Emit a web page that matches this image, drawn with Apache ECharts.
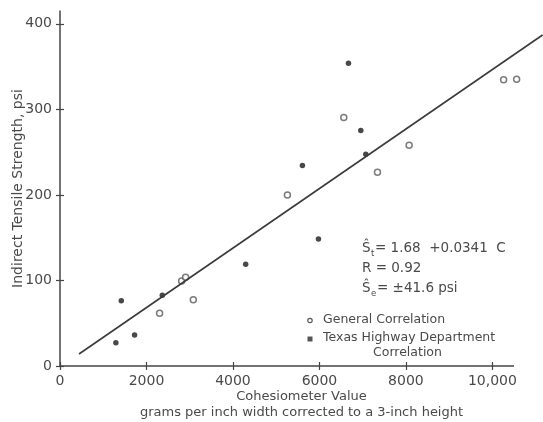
<!DOCTYPE html>
<html>
<head>
<meta charset="utf-8">
<script src="https://cdn.jsdelivr.net/npm/echarts@6/dist/echarts.min.js"></script>
<style>html,body{margin:0;padding:0;background:#fff}#c{width:543px;height:422px}</style>
</head>
<body>
<div id="c"></div>
<script>
// Data
const xTicks = [0, 2000, 4000, 6000, 8000, 10000];
const yTicks = [0, 100, 200, 300, 400];
const xAxisEnd = 10500;
const generalX = [2303, 2813, 2905, 3083, 5259, 6563, 7342, 8074, 10259, 10560];
const generalY = [61.6, 99.4, 103.7, 77.5, 200, 290.4, 226.5, 258, 334.5, 335.3];
const texasX = [1292, 1417, 1725, 2366, 4294, 5606, 5977, 6671, 6956, 7072];
const texasY = [27.3, 76.4, 36.3, 82.7, 119, 234.3, 148.5, 354, 275.2, 247.6];
const fitX = [440, 11160];
const fitY = [14, 387];

const TXT = '#4a4a4a';
const AX = '#444';
const FONT = 'DejaVu Sans';
const zip = (a, b) => a.map((v, i) => [v, b[i]]);

const chart = echarts.init(document.getElementById('c'));
const mainStyle = { fontFamily: FONT, fontSize: 13.5, fill: TXT };
const subStyle = { fontFamily: FONT, fontSize: 8.5, fill: TXT };
chart.setOption({
  backgroundColor: '#fff',
  animation: false,
  grid: { left: 60, right: 0, top: 11, bottom: 56, outerBoundsMode: 'none', containLabel: false },
  xAxis: [{
    type: 'value', min: 0, max: 11170, interval: 2000,
    position: 'bottom',
    name: 'Cohesiometer Value\ngrams per inch width corrected to a 3-inch height',
    nameLocation: 'middle', nameGap: 23, nameMoveOverlap: false,
    nameTextStyle: { color: TXT, fontFamily: FONT, fontSize: 13, lineHeight: 16, verticalAlign: 'top', padding: [0, 0, 0, 0] },
    axisLine: { show: false },
    axisTick: { show: true, length: 4, customValues: xTicks, lineStyle: { color: AX, width: 1.2 } },
    axisLabel: { color: TXT, fontFamily: FONT, fontSize: 14, margin: 8, customValues: xTicks,
      formatter: v => (v >= 10000 ? v.toLocaleString('en-US') : String(v)) },
    splitLine: { show: false }
  }, {
    type: 'value', min: 0, max: 11170, interval: 2000, position: 'bottom',
    axisLine: { show: false }, axisLabel: { show: false },
    axisTick: { show: true, inside: true, length: 4, customValues: xTicks, lineStyle: { color: AX, width: 1.2 } },
    splitLine: { show: false }
  }],
  yAxis: [{
    type: 'value', min: 0, max: 415, interval: 100,
    name: 'Indirect Tensile Strength, psi',
    nameLocation: 'middle', nameGap: 35, nameRotate: 90, nameMoveOverlap: false,
    nameTextStyle: { color: TXT, fontFamily: FONT, fontSize: 14 },
    axisLine: { show: true, lineStyle: { color: AX, width: 1.5 } },
    axisTick: { show: true, length: 4, customValues: yTicks, lineStyle: { color: AX, width: 1.2 } },
    axisLabel: { color: TXT, fontFamily: FONT, fontSize: 14, margin: 8, customValues: yTicks },
    splitLine: { show: false }
  }, {
    type: 'value', min: 0, max: 415, interval: 100, position: 'left',
    axisLine: { show: false }, axisLabel: { show: false },
    axisTick: { show: true, inside: true, length: 4, customValues: yTicks, lineStyle: { color: AX, width: 1.2 } },
    splitLine: { show: false }
  }],
  series: [{
    name: 'Regression',
    type: 'line',
    data: zip(fitX, fitY),
    showSymbol: false, symbol: 'none',
    lineStyle: { color: '#3a3a3a', width: 1.6 },
    silent: true,
    markLine: {
      silent: true, symbol: ['none', 'none'], label: { show: false },
      lineStyle: { color: AX, width: 1.5, type: 'solid' },
      data: [[{ coord: [0, 0] }, { coord: [xAxisEnd, 0] }]]
    }
  }, {
    name: 'General Correlation',
    type: 'scatter',
    data: zip(generalX, generalY),
    symbol: 'circle', symbolSize: 6,
    itemStyle: { color: '#fff', borderColor: '#5a5a5a', borderWidth: 1.5 }
  }, {
    name: 'Texas Highway Department Correlation',
    type: 'scatter',
    data: zip(texasX, texasY),
    symbol: 'circle', symbolSize: 5.5,
    itemStyle: { color: '#1a1a1a' }
  }],
  graphic: [
    { type: 'text', left: 362, top: 241, style: Object.assign({ text: 'Ŝ' }, mainStyle) },
    { type: 'text', left: 371, top: 249, style: Object.assign({ text: 't' }, subStyle) },
    { type: 'text', left: 375, top: 241, style: Object.assign({ text: '= 1.68  +0.0341  C' }, mainStyle) },
    { type: 'text', left: 362, top: 261, style: Object.assign({ text: 'R = 0.92' }, mainStyle) },
    { type: 'text', left: 362, top: 281, style: Object.assign({ text: 'Ŝ' }, mainStyle) },
    { type: 'text', left: 371, top: 289, style: Object.assign({ text: 'e' }, subStyle) },
    { type: 'text', left: 377, top: 281, style: Object.assign({ text: '= ±41.6 psi' }, mainStyle) },
    { type: 'circle', shape: { cx: 310, cy: 320.5, r: 2.2 }, style: { fill: '#fff', stroke: '#5a5a5a', lineWidth: 1.2 } },
    { type: 'text', left: 323, top: 313, style: { text: 'General Correlation', fontFamily: FONT, fontSize: 12.5, fill: TXT } },
    { type: 'rect', shape: { x: 307.5, y: 336.5, width: 5, height: 5 }, style: { fill: '#555' } },
    { type: 'text', left: 323, top: 331.5, style: { text: 'Texas Highway Department', fontFamily: FONT, fontSize: 12.5, fill: TXT } },
    { type: 'text', left: 373, top: 346.5, style: { text: 'Correlation', fontFamily: FONT, fontSize: 12.5, fill: TXT } }
  ]
});
</script>
</body>
</html>
